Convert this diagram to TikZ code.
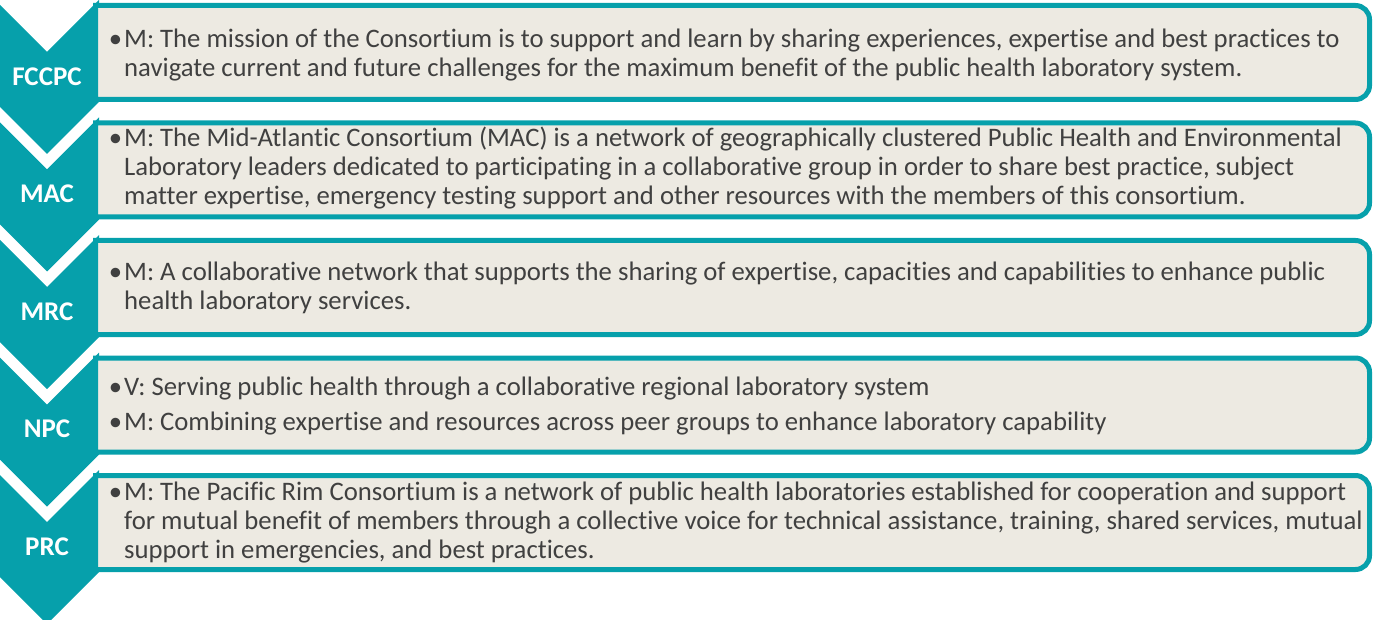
\documentclass[tikz,border=0pt]{standalone}
\usepackage{fontspec}
\setmainfont{Carlito}[Ligatures=NoCommon]
\usetikzlibrary{positioning}
\definecolor{chevteal}{RGB}{6,160,171}
\definecolor{boxfill}{RGB}{237,234,226}
\definecolor{txtgray}{RGB}{64,64,64}
\newcommand{\bul}{\llap{\textbullet\hspace{2pt}}}

\begin{document}
\begin{tikzpicture}[x=1pt,y=-1pt,
  chev/.style={fill=chevteal},
  panel/.style={draw=chevteal,line width=5pt,fill=boxfill},
  lab/.style={text=white,font=\fontsize{27}{30}\selectfont\bfseries},
  desc/.style={anchor=west,inner sep=0pt,text=txtgray,font=\fontsize{26.7}{29}\selectfont}]
\useasboundingbox (0,0) rectangle (1373,620);
\clip (0,0) rectangle (1373,620);

\foreach \t/\lab in {0/FCCPC,117.5/MAC,235/MRC,352.5/NPC,470/PRC}{
  \fill[chev] (-5,\t) -- (47,\t+52) -- (99,\t) -- (99,\t+102) -- (47,\t+154) -- (-5,\t+102) -- cycle;
  \draw[panel] (95.5,\t+5.5) -- (1300,\t+5.5) [rounded corners=14pt] -- (1369.5,\t+5.5)
    -- (1369.5,\t+99.5) -- (1300,\t+99.5) [sharp corners] -- (95.5,\t+99.5) -- cycle;
  \node[lab] (\lab) at (47,\t+76.5) {\lab};
  \coordinate (c\lab) at (124,\t+52.5);
}

\node[desc] (fccpctxt) at ([yshift=-4pt]cFCCPC) {\begin{tabular}{@{}l@{}}
  \bul M: The mission of the Consortium is to support and learn by sharing experiences, expertise and best practices to\\
  navigate current and future challenges for the maximum benefit of the public health laboratory system.
  \end{tabular}};
\node[desc] (mactxt) at (cMAC) {\begin{tabular}{@{}l@{}}
  \bul M: The Mid-Atlantic Consortium (MAC) is a network of geographically clustered Public Health and Environmental\\
  Laboratory leaders dedicated to participating in a collaborative group in order to share best practice, subject\\
  matter expertise, emergency testing support and other resources with the members of this consortium.
  \end{tabular}};
\node[desc] (mrctxt) at ([yshift=-2pt]cMRC) {\begin{tabular}{@{}l@{}}
  \bul M: A collaborative network that supports the sharing of expertise, capacities and capabilities to enhance public\\
  health laboratory services.
  \end{tabular}};
\node[desc] (npctxt) at ([yshift=-2pt]cNPC) {\begin{tabular}{@{}l@{}}
  \bul V: Serving public health through a collaborative regional laboratory system\\[6pt]
  \bul M: Combining expertise and resources across peer groups to enhance laboratory capability
  \end{tabular}};
\node[desc] (prctxt) at ([yshift=-1pt]cPRC) {\begin{tabular}{@{}l@{}}
  \bul M: The Pacific Rim Consortium is a network of public health laboratories established for cooperation and support\\
  for mutual benefit of members through a collective voice for technical assistance, training, shared services, mutual\\
  support in emergencies, and best practices.
  \end{tabular}};
\end{tikzpicture}
\end{document}
